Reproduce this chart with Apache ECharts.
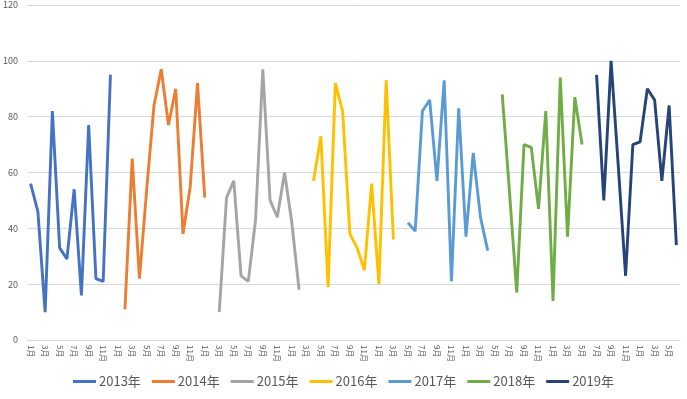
<!DOCTYPE html>
<html><head><meta charset="utf-8">
<script src="https://cdn.jsdelivr.net/npm/echarts@6/dist/echarts.min.js"></script>
<style>html,body{margin:0;padding:0;background:#fff}#c{width:687px;height:399px}</style>
</head><body><div id="c"></div>
<script>
const months = ['1月','2月','3月','4月','5月','6月','7月','8月','9月','10月','11月','12月'];
const monthCount = 90;
const seriesNames = ['2013年','2014年','2015年','2016年','2017年','2018年','2019年'];
const startIndex = [0, 13, 26, 39, 52, 65, 78];
const v2013 = [56, 46, 10, 82, 33, 29, 54, 16, 77, 22, 21, 95];
const v2014 = [11, 65, 22, 54, 84, 97, 77, 90, 38, 55, 92, 51];
const v2015 = [10, 51, 57, 23, 21, 43, 97, 50, 44, 60, 42, 18];
const v2016 = [57, 73, 19, 92, 82, 38, 33, 25, 56, 20, 93, 36];
const v2017 = [42, 39, 82, 86, 57, 93, 21, 83, 37, 67, 44, 32];
const v2018 = [88, 53, 17, 70, 69, 47, 82, 14, 94, 37, 87, 70];
const v2019 = [95, 50, 100, 62, 23, 70, 71, 90, 86, 57, 84, 34];
const yearValues = [v2013, v2014, v2015, v2016, v2017, v2018, v2019];
const colors = ['#4472C4','#ED7D31','#A5A5A5','#FFC000','#5B9BD5','#70AD47','#264478'];

const categories = [];
for (let i = 0; i < monthCount; i++) categories.push(months[i % 12]);

const series = seriesNames.map((name, k) => {
  const d = new Array(monthCount).fill(null);
  yearValues[k].forEach((v, j) => { d[startIndex[k] + j] = v; });
  return {
    name, type: 'line', data: d, symbol: 'none', connectNulls: false,
    lineStyle: { width: 2.9, color: colors[k] }, itemStyle: { color: colors[k] }
  };
});

const chart = echarts.init(document.getElementById('c'), null, { renderer: 'canvas' });
chart.setOption({
  animation: false,
  color: colors,
  grid: { left: 27, right: 7, top: 5, bottom: 59, containLabel: false },
  xAxis: {
    type: 'category', data: categories, boundaryGap: true,
    axisLine: { lineStyle: { color: '#d9d9d9', width: 1 } },
    axisTick: { show: false },
    axisLabel: { interval: 1, rotate: -90, fontSize: 8, color: '#595959', margin: 5,
      fontFamily: 'Noto Sans CJK SC' }
  },
  yAxis: {
    type: 'value', min: 0, max: 120, interval: 20,
    axisLine: { show: false }, axisTick: { show: false },
    axisLabel: { fontSize: 9, color: '#595959', margin: 9, fontFamily: 'Noto Sans CJK SC' },
    splitLine: { lineStyle: { color: '#d9d9d9', width: 1 } }
  },
  legend: {
    bottom: 6, left: 'center', icon: 'rect', itemWidth: 23, itemHeight: 3, itemGap: 11,
    textStyle: { fontSize: 13, color: '#595959', fontFamily: 'Noto Sans CJK SC', padding: [0, 0, 0, -2] },
    data: seriesNames
  },
  series
});
</script></body></html>
